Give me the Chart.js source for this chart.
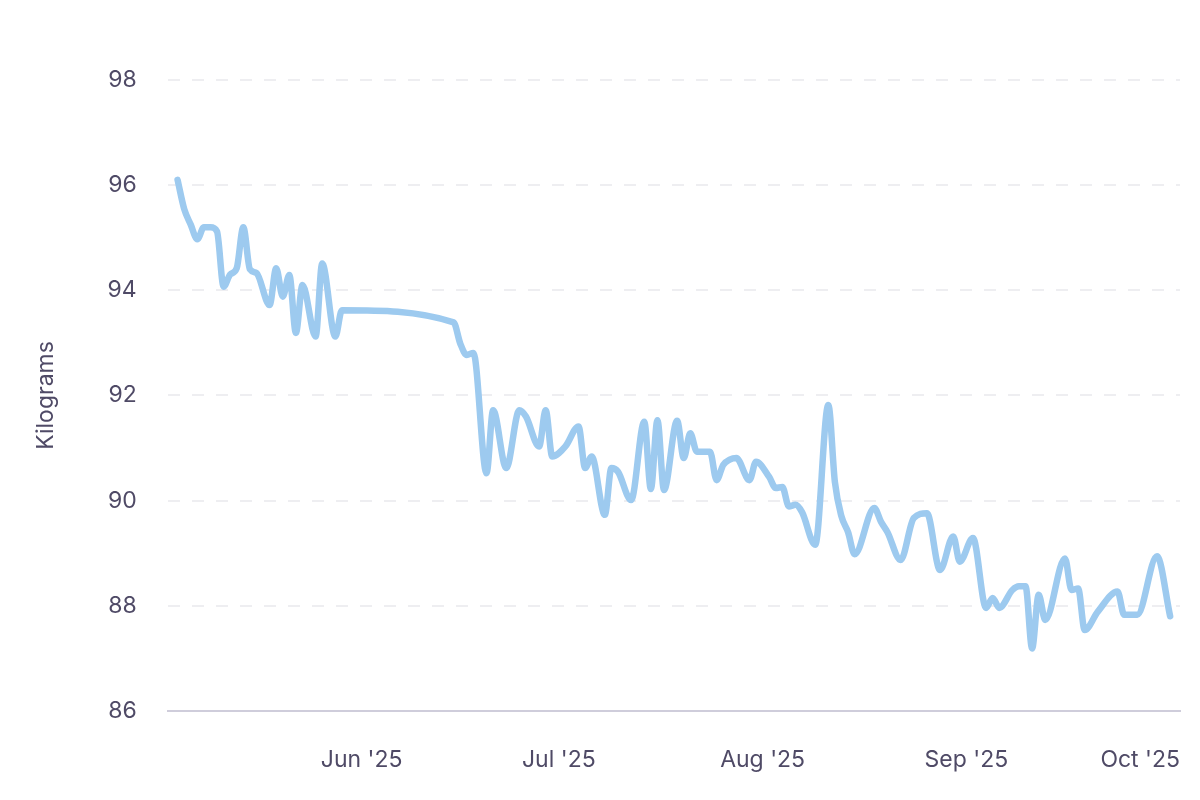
<!DOCTYPE html>
<html>
<head>
<meta charset="utf-8">
<script src="https://cdn.jsdelivr.net/npm/chart.js@4.4.1/dist/chart.umd.min.js"></script>
<style>
html, body { margin: 0; padding: 0; background: #fff; }
#wrap { width: 1200px; height: 800px; }
</style>
</head>
<body>
<div id="wrap"><canvas id="chart" width="1200" height="800"></canvas></div>
<script>
// weigh-in dates and body weight (kg)
const dates = [
  '2025-05-04','2025-05-05','2025-05-06','2025-05-07','2025-05-08','2025-05-09','2025-05-10',
  '2025-05-11','2025-05-12','2025-05-13','2025-05-14','2025-05-15','2025-05-16','2025-05-18',
  '2025-05-19','2025-05-20','2025-05-21','2025-05-22','2025-05-23','2025-05-25','2025-05-26',
  '2025-05-28','2025-05-29','2025-06-15','2025-06-16','2025-06-17','2025-06-18','2025-06-20',
  '2025-06-21','2025-06-23','2025-06-25','2025-06-26','2025-06-28','2025-06-29','2025-06-30',
  '2025-07-02','2025-07-04','2025-07-05','2025-07-06','2025-07-08','2025-07-09','2025-07-10',
  '2025-07-12','2025-07-14','2025-07-15','2025-07-16','2025-07-17','2025-07-19','2025-07-20',
  '2025-07-21','2025-07-22','2025-07-23','2025-07-24','2025-07-25','2025-07-26','2025-07-27',
  '2025-07-28','2025-07-30','2025-07-31','2025-08-02','2025-08-03','2025-08-04','2025-08-05',
  '2025-08-06','2025-08-07','2025-08-09','2025-08-11','2025-08-12','2025-08-13','2025-08-14',
  '2025-08-15','2025-08-18','2025-08-19','2025-08-20','2025-08-22','2025-08-24','2025-08-26',
  '2025-08-28','2025-08-30','2025-08-31','2025-09-02','2025-09-04','2025-09-05','2025-09-06',
  '2025-09-08','2025-09-09','2025-09-10','2025-09-11','2025-09-12','2025-09-13','2025-09-16',
  '2025-09-17','2025-09-18','2025-09-19','2025-09-21','2025-09-24','2025-09-25','2025-09-27',
  '2025-09-30','2025-10-02'
]
const kilograms = [
  96.1, 95.55, 95.25, 94.97, 95.2, 95.2, 95.12,
  94.07, 94.3, 94.42, 95.2, 94.4, 94.33, 93.72,
  94.42, 93.88, 94.29, 93.19, 94.1, 93.12, 94.51,
  93.12, 93.62, 93.39, 92.99, 92.77, 92.81, 90.52,
  91.72, 90.62, 91.72, 91.6, 91.03, 91.72, 90.84,
  91.03, 91.41, 90.62, 90.84, 89.73, 90.62, 90.55,
  90.01, 91.5, 90.22, 91.53, 90.2, 91.52, 90.81,
  91.28, 90.93, 90.93, 90.93, 90.39, 90.68, 90.78,
  90.81, 90.39, 90.74, 90.45, 90.24, 90.26, 89.89,
  89.92, 89.78, 89.16, 91.82, 90.35, 89.7, 89.4,
  88.98, 89.86, 89.6, 89.4, 88.87, 89.67, 89.76,
  88.68, 89.32, 88.84, 89.29, 87.96, 88.15, 87.96,
  88.3, 88.37, 88.37, 87.19, 88.21, 87.73, 88.9,
  88.3, 88.33, 87.54, 87.89, 88.27, 87.83, 87.83,
  88.94, 87.8
]
const yTicks = [86, 88, 90, 92, 94, 96, 98]
const monthStarts = ['2025-06-01', '2025-07-01', '2025-08-01', '2025-09-01', '2025-10-01']
const monthLabels = ["Jun '25", "Jul '25", "Aug '25", "Sep '25", "Oct '25"]

const DAY = 86400000
const toTime = s => {
  const [y, m, d] = s.split('-').map(Number)
  return Date.UTC(y, m - 1, d)
}
const textColor = '#4f4a66'
const font = { family: "Inter, 'Noto Sans', sans-serif", size: 23 }
const jun1 = toTime('2025-06-01')

const points = dates.map((d, i) => ({ x: toTime(d), y: kilograms[i] }))

new Chart(document.getElementById('chart'), {
  type: 'line',
  data: {
    datasets: [{
      data: points,
      borderColor: '#9dcaef',
      borderWidth: 6.5,
      pointRadius: 0,
      cubicInterpolationMode: 'monotone',
      borderCapStyle: 'round',
      borderJoinStyle: 'round',
      fill: false
    }]
  },
  options: {
    responsive: false,
    devicePixelRatio: 1,
    animation: false,
    layout: { padding: { top: 80, right: 20, bottom: -9.6, left: 28 } },
    plugins: { legend: { display: false }, tooltip: { enabled: false } },
    scales: {
      x: {
        type: 'linear',
        min: jun1 - 29.5 * DAY,
        max: jun1 + 124.5 * DAY,
        grid: { display: false, drawTicks: false },
        border: { display: true, color: '#cfcddb', width: 2 },
        afterBuildTicks: scale => {
          const ticks = [{ value: scale.min }]
          monthStarts.forEach(s => {
            const v = toTime(s)
            // last month label sits clamped against the right edge
            ticks.push({ value: v > scale.max - 3 * DAY ? scale.max : v })
          })
          scale.ticks = ticks
        },
        ticks: {
          align: 'inner',
          autoSkip: false,
          maxRotation: 0,
          padding: 20,
          color: textColor,
          font: { ...font, lineHeight: 2.55 },
          callback: (value, i) => i === 0 ? '' : monthLabels[i - 1]
        }
      },
      y: {
        min: 86,
        max: 98,
        afterBuildTicks: scale => { scale.ticks = yTicks.map(v => ({ value: v })) },
        grid: {
          color: ctx => ctx.tick && ctx.tick.value === 86 ? 'rgba(0,0,0,0)' : '#eeeef1',
          lineWidth: 2,
          drawTicks: false
        },
        border: { display: false, dash: [12, 12] },
        ticks: { padding: 31, color: textColor, font: font },
        title: {
          display: true,
          text: 'Kilograms',
          color: textColor,
          font: font,
          padding: { top: 4, bottom: 17 }
        }
      }
    }
  }
})
</script>
</body>
</html>
